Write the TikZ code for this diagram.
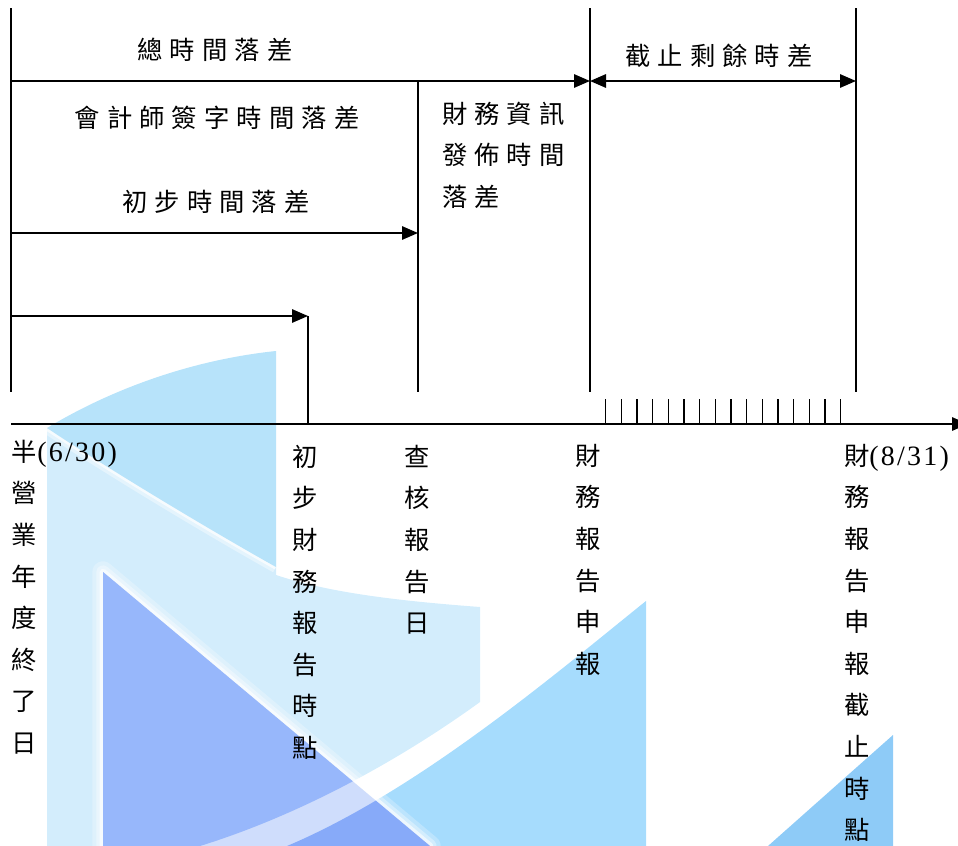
\documentclass[tikz,border=0pt]{standalone}
\usepackage{fontspec}
\setmainfont{Liberation Serif}
\newfontfamily\cjk{Noto Sans CJK TC}
\newfontfamily\cjkwide[LetterSpace=28]{Noto Sans CJK TC}
\newfontfamily\datefont[LetterSpace=8]{Liberation Serif}
\newcommand\datetag[1]{{\fontsize{21}{31}\datefont#1}}
\usepackage{tikz}
\usetikzlibrary{arrows.meta}

\definecolor{paleblue}{HTML}{D3EDFC}
\definecolor{capblue}{HTML}{B7E3FA}
\definecolor{skyblue}{HTML}{A6DCFD}
\definecolor{triblue}{HTML}{97B7FB}
\definecolor{tribluel}{HTML}{CFDDFC}
\definecolor{triblued}{HTML}{87AAF9}
\definecolor{cornerblue}{HTML}{8ECBF7}

\begin{document}
\begin{tikzpicture}[x=0.75pt,y=-0.75pt,line width=1.5pt,
  tip/.style={-{Triangle[length=12pt,width=10pt]}},
  twotip/.style={{Triangle[length=12pt,width=10pt]}-{Triangle[length=12pt,width=10pt]}},
  gap/.style={inner sep=0pt,font=\fontsize{19}{31.2}\cjkwide},
  vlabel/.style={anchor=north,inner sep=0pt,align=center,font=\fontsize{19}{31.2}\cjk}]
  \useasboundingbox (0,0) rectangle (958,846);

  % background swooshes
  \fill[paleblue] (47,428) -- (47,846) -- (200,846) .. controls (300,815) and (400,760) .. (480,702)
    -- (480,607) .. controls (400,601) and (330,593) .. (276,575) -- (276,540) -- cycle;
  \foreach \w/\o in {9/0.4,4/0.7}
    \draw[white,opacity=\o,line width=\w pt] (47,428) .. controls (110,470) and (210,530) .. (276,567);
  \fill[capblue] (47,428) .. controls (110,390) and (190,360) .. (276,351)
    -- (276,567) .. controls (210,530) and (110,470) .. (47,428) -- cycle;
  \fill[skyblue] (646,601) .. controls (560,670) and (420,790) .. (287,846) -- (646,846) -- cycle;
  \foreach \w/\o in {16/0.25,10/0.35,5/0.6}
    \draw[white,opacity=\o,line width=\w pt,line join=round] (103,572) -- (103,846) -- (430,846) -- cycle;
  \begin{scope}
    \clip (103,572) -- (103,846) -- (430,846) -- cycle;
    \fill[tribluel] (103,572) rectangle (430,846);
    \fill[triblue] (103,560) -- (103,846) -- (200,846) .. controls (300,815) and (400,760) .. (480,702) -- (480,560) -- cycle;
    \fill[triblued] (646,601) .. controls (560,670) and (420,790) .. (287,846) -- (646,846) -- cycle;
  \end{scope}
  \fill[cornerblue] (893,735) -- (893,846) -- (768,846) -- cycle;

  % time points on the axis and rows of the gaps
  \coordinate (yearend) at (11,424);
  \coordinate (prelim) at (308,424);
  \coordinate (audit) at (418,424);
  \coordinate (filing) at (590,424);
  \coordinate (deadline) at (856,424);
  \coordinate (axisend) at (968,424);
  \coordinate (top) at (0,8);
  \coordinate (total) at (0,81);
  \coordinate (sign) at (0,233);
  \coordinate (first) at (0,316);
  \coordinate (foot) at (0,392);

  \draw (yearend |- top) -- (yearend |- foot);
  \draw (filing |- top) -- (filing |- foot);
  \draw (deadline |- top) -- (deadline |- foot);
  \draw (audit |- total) -- (audit |- foot);
  \draw (prelim |- first) -- (prelim);
  \draw[tip] (yearend |- total) -- (filing |- total);
  \draw[twotip] (filing |- total) -- (deadline |- total);
  \draw[tip] (yearend |- sign) -- (audit |- sign);
  \draw[tip] (yearend |- first) -- (prelim |- first);
  \draw[tip] (yearend) -- (axisend);
  \foreach \i in {0,...,15}
    \draw[line width=1pt] ({605.7+15.67*\i},399) -- ({605.7+15.67*\i},424);

  % gap labels
  \node[gap] (totalgap) at (215,50) {總時間落差};
  \node[gap] (signgap) at (217,118) {會計師簽字時間落差};
  \node[gap] (prelimgap) at (216,202) {初步時間落差};
  \node[gap,anchor=west,align=left] (releasegap) at (441,155) {財務資訊\\發佈時間\\落差};
  \node[gap] (remaingap) at (719,56) {截止剩餘時差};

  % date labels under the axis
  \node[vlabel,anchor=north west,align=left] (yearlabel) at (11,439) {半\datetag{(6/30)}\\營\\業\\年\\度\\終\\了\\日};
  \node[vlabel] (prelimlabel) at (305,444) {初\\步\\財\\務\\報\\告\\時\\點};
  \node[vlabel] (auditlabel) at (417,444) {查\\核\\報\\告\\日};
  \node[vlabel] (filinglabel) at (588,443) {財\\務\\報\\告\\申\\報};
  \node[vlabel,anchor=north west,align=left] (deadlabel) at (843,443) {財\datetag{(8/31)}\\務\\報\\告\\申\\報\\截\\止\\時\\點};
\end{tikzpicture}
\end{document}
